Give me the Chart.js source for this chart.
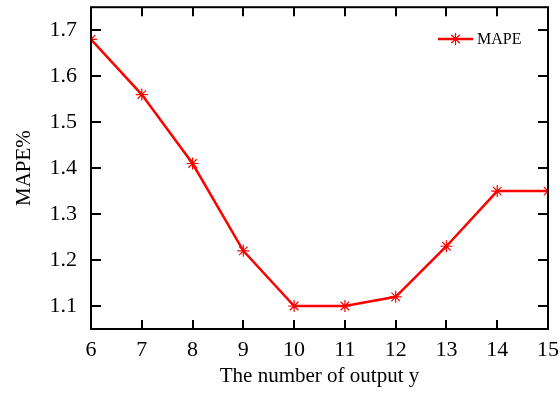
<!DOCTYPE html>
<html>
<head>
<meta charset="utf-8">
<script src="https://cdn.jsdelivr.net/npm/chart.js@4/dist/chart.umd.min.js"></script>
<style>
  html, body { margin: 0; padding: 0; background: #fff; }
  #wrap { width: 560px; height: 394px; }
</style>
</head>
<body>
<div id="wrap"><canvas id="chart" width="560" height="394"></canvas></div>
<script>
(() => {
  'use strict';

  // ── Data ──────────────────────────────────────────────────
  const outputs = [6, 7, 8, 9, 10, 11, 12, 13, 14, 15];
  const mape = [1.68, 1.56, 1.41, 1.22, 1.10, 1.10, 1.12, 1.23, 1.35, 1.35];
  const xTicks = [6, 7, 8, 9, 10, 11, 12, 13, 14, 15];
  const yTicks = [1.1, 1.2, 1.3, 1.4, 1.5, 1.6, 1.7];

  const RED = '#ff0000';
  const SERIF = '"Liberation Serif", "Times New Roman", serif';

  // Frame + inward ticks on all four sides
  const framePlugin = {
    id: 'frame',
    afterDraw(chart) {
      const { ctx, chartArea: a, scales: { x, y } } = chart;
      ctx.save();
      ctx.strokeStyle = '#000';
      ctx.lineWidth = 2;
      ctx.beginPath();
      xTicks.forEach(v => {
        const px = Math.round(x.getPixelForValue(v));
        ctx.moveTo(px, a.bottom); ctx.lineTo(px, a.bottom - 9);
        ctx.moveTo(px, a.top); ctx.lineTo(px, a.top + 9);
      });
      yTicks.forEach(v => {
        const py = Math.round(y.getPixelForValue(v));
        ctx.moveTo(a.left, py); ctx.lineTo(a.left + 10, py);
        ctx.moveTo(a.right, py); ctx.lineTo(a.right - 10, py);
      });
      ctx.stroke();
      ctx.strokeRect(a.left, a.top, a.right - a.left, a.bottom - a.top);
      ctx.restore();
    },
  };

  // Key in the top-right corner: line sample with marker, then label
  const keyPlugin = {
    id: 'key',
    afterDraw(chart) {
      const { ctx } = chart;
      const ds = chart.data.datasets[0];
      const x0 = 438, x1 = 473, ky = 39;
      ctx.save();
      ctx.strokeStyle = ds.borderColor;
      ctx.lineWidth = 2.5;
      ctx.beginPath();
      ctx.moveTo(x0, ky); ctx.lineTo(x1, ky);
      ctx.stroke();
      ctx.lineWidth = 1.2;
      Chart.helpers.drawPoint(ctx, { pointStyle: 'star', radius: 6, borderWidth: 1.2 }, (x0 + x1) / 2, ky);
      ctx.fillStyle = '#000';
      ctx.font = `16px ${SERIF}`;
      ctx.textBaseline = 'middle';
      ctx.fillText(ds.label, 477, ky + 1);
      ctx.restore();
    },
  };

  new Chart(document.getElementById('chart'), {
    type: 'line',
    data: {
      datasets: [{
        label: 'MAPE',
        data: outputs.map((v, i) => ({ x: v, y: mape[i] })),
        borderColor: RED,
        backgroundColor: RED,
        borderWidth: 2.5,
        pointStyle: 'star',
        pointRadius: 6,
        pointBorderWidth: 1.2,
        pointBorderColor: RED,
        tension: 0,
      }],
    },
    options: {
      responsive: false,
      animation: false,
      layout: { padding: { top: 7, right: 12, left: 0, bottom: 0 } },
      plugins: { legend: { display: false }, tooltip: { enabled: false } },
      scales: {
        x: {
          type: 'linear',
          min: 6, max: 15,
          afterBuildTicks: s => { s.ticks = xTicks.map(v => ({ value: v })); },
          afterFit: s => { s.height = 65; s.paddingLeft = 0; s.paddingRight = 0; },
          grid: { display: false, drawTicks: false },
          border: { display: false },
          ticks: { color: '#000', padding: 8, font: { family: SERIF, size: 22 } },
          title: {
            display: true, text: 'The number of output y', color: '#000',
            font: { family: SERIF, size: 21 }, padding: { top: 0, bottom: 5 },
          },
        },
        y: {
          min: 1.05, max: 1.75,
          afterBuildTicks: s => { s.ticks = yTicks.map(v => ({ value: v })); },
          afterFit: s => { s.width = 91; s.paddingTop = 0; s.paddingBottom = 0; },
          grid: { display: false, drawTicks: false },
          border: { display: false },
          ticks: {
            color: '#000', padding: 14, font: { family: SERIF, size: 22 },
            callback: v => v.toFixed(1),
          },
          title: {
            display: true, text: 'MAPE%', color: '#000',
            font: { family: SERIF, size: 21 }, padding: { top: 12, bottom: 0 },
          },
        },
      },
    },
    plugins: [framePlugin, keyPlugin],
  });
})();
</script>
</body>
</html>
